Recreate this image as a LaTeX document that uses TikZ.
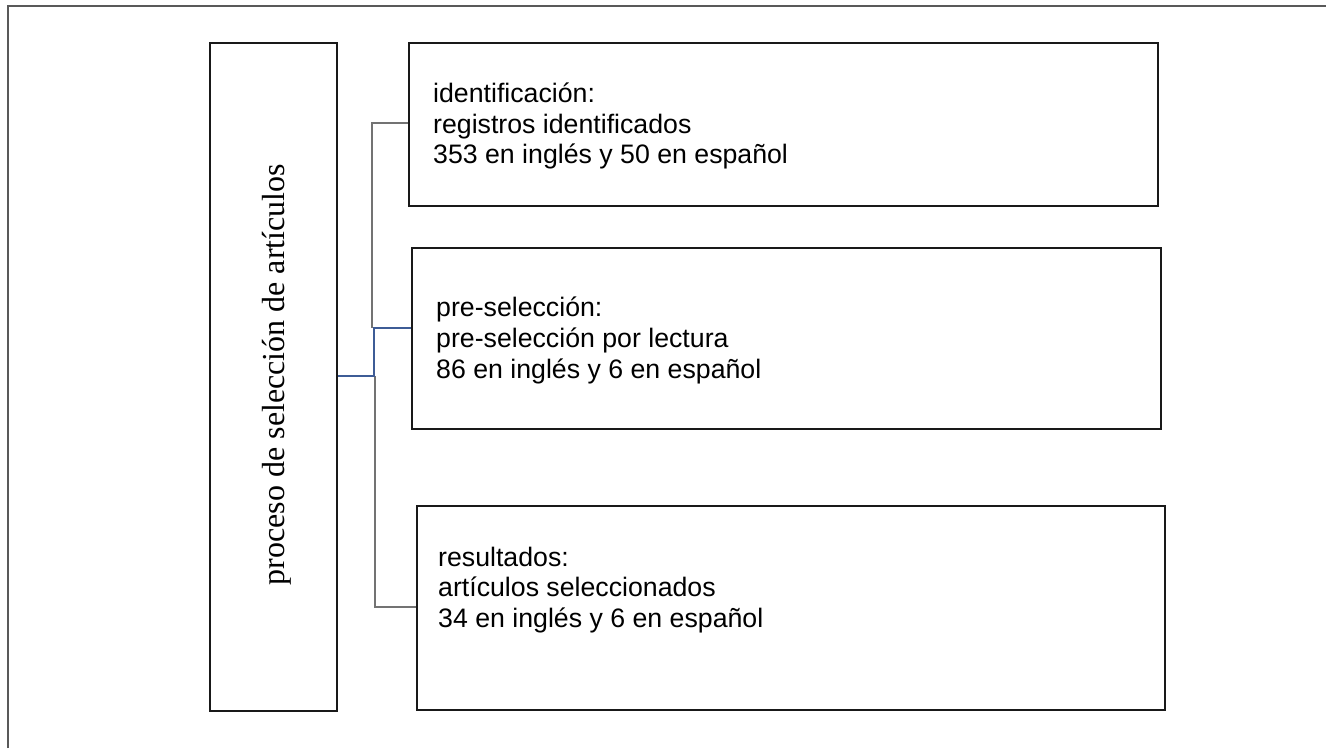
\documentclass[tikz,border=0pt]{standalone}
\usepackage{fontspec}
\setmainfont{Liberation Serif}
\newfontfamily\boxfont{Liberation Sans}
\definecolor{linkblue}{RGB}{62,92,150}
\begin{document}
\begin{tikzpicture}[x=1pt,y=-1pt,
  framel/.style={draw=black!65, line width=1.3pt},
  boxs/.style={draw=black!90, line width=2.2pt, rectangle, inner sep=0pt, anchor=north west},
  txt/.style={inner sep=0pt, anchor=west, align=left, font=\boxfont\fontsize{26.7}{30.7}\selectfont},
  greyline/.style={draw=black!55, line width=1.2pt},
  blueline/.style={draw=linkblue, line width=1.4pt}]
\useasboundingbox (0,0) rectangle (1326,748);
\coordinate (ftl) at (8,6);
\coordinate (ftr) at (1326,6);
\coordinate (fbl) at (8,748);
\draw[framel] (fbl) -- (ftl) -- (ftr);
% boxes
\node[boxs, minimum width=127pt, minimum height=668pt] (main) at (209,42) {};
\node[rotate=90, anchor=base, inner sep=0pt, font=\fontsize{32}{36}\selectfont] (mt) at (284,374.5) {proceso de selección de artículos};
\node[boxs, minimum width=749pt, minimum height=163pt] (b1) at (408,42) {};
\node[boxs, minimum width=749pt, minimum height=181pt] (b2) at (411,247) {};
\node[boxs, minimum width=748pt, minimum height=204pt] (b3) at (416,505) {};
\node[txt] (t1) at (433,126) {identificación:\\registros identificados\\353 en inglés y 50 en español};
\node[txt] (t2) at (436,340.5) {pre-selección:\\pre-selección por lectura\\86 en inglés y 6 en español};
\node[txt] (t3) at (438,590) {resultados:\\artículos seleccionados\\34 en inglés y 6 en español};
% connectors
\coordinate (j1) at (372,123);
\coordinate (j2) at (372,328);
\coordinate (ja) at (374,376);
\coordinate (jb) at (374,328);
\coordinate (j3) at (375,376);
\coordinate (j4) at (375,607);
\draw[greyline] (b1.west |- j1) -- (j1) -- (j2);
\draw[greyline] (j3) -- (j4) -- (b3.west |- j4);
\draw[blueline] (main.east |- ja) -- (ja) -- (jb) -- (b2.west |- jb);
\end{tikzpicture}
\end{document}
